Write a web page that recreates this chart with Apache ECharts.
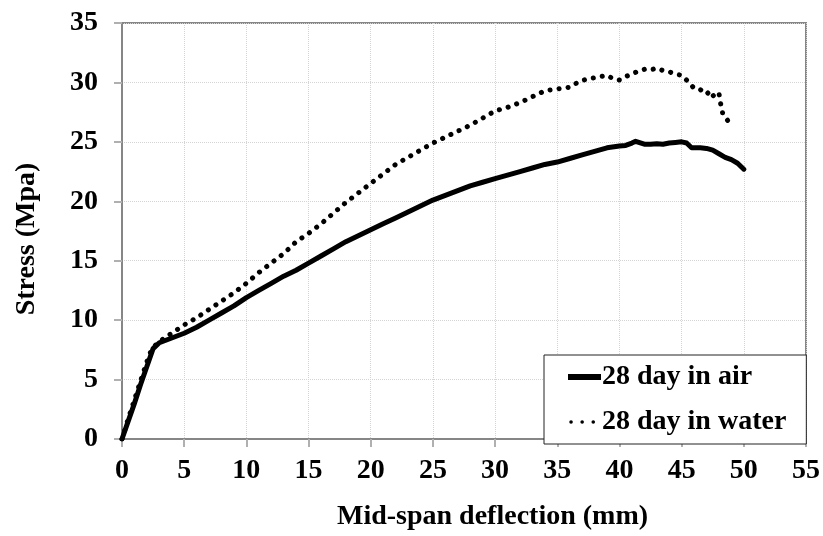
<!DOCTYPE html>
<html><head><meta charset="utf-8">
<script src="https://cdn.jsdelivr.net/npm/echarts@6/dist/echarts.min.js"></script>
<style>html,body{margin:0;padding:0;background:#fff}#c{width:823px;height:536px}</style>
</head><body><div id="c"></div>
<script>
const seriesNames = ['28 day in air', '28 day in water'];
const xTicks = [0,5,10,15,20,25,30,35,40,45,50,55];
const yTicks = [0,5,10,15,20,25,30,35];
const airData = [[0,0],[0.5,1.5],[1,3.0],[1.5,4.6],[2,6.1],[2.5,7.6],[3,8.1],[4,8.5],[5,8.9],[6,9.4],[7,10.0],[8,10.6],[9,11.2],[10,11.9],[11,12.5],[12,13.1],[13,13.7],[14,14.2],[15,14.8],[16,15.4],[17,16.0],[18,16.6],[19,17.1],[20,17.6],[21,18.1],[22,18.6],[23,19.1],[24,19.6],[25,20.1],[26,20.5],[27,20.9],[28,21.3],[29,21.6],[30,21.9],[31,22.2],[32,22.5],[33,22.8],[34,23.1],[35,23.3],[36,23.6],[37,23.9],[38,24.2],[39,24.5],[40,24.65],[40.5,24.7],[41,24.9],[41.3,25.05],[42,24.8],[42.5,24.8],[43,24.85],[43.5,24.8],[44,24.9],[44.5,24.95],[45,25.0],[45.4,24.9],[45.8,24.5],[46.5,24.5],[47,24.45],[47.5,24.3],[48,24.0],[48.5,23.7],[49,23.5],[49.5,23.2],[50,22.7]];
const waterData = [[0,0],[0.5,1.7],[1,3.3],[1.5,4.9],[2,6.5],[2.4,7.6],[3,8.2],[4,8.9],[5,9.6],[6,10.2],[7,10.9],[8,11.6],[9,12.3],[10,13.1],[11,14.0],[12,14.8],[13,15.6],[14,16.6],[15,17.3],[16,18.1],[17,19.0],[18,19.9],[19,20.7],[20,21.5],[21,22.3],[22,23.1],[23,23.7],[24,24.3],[25,24.9],[26,25.4],[27,25.9],[28,26.4],[29,27.0],[30,27.6],[31,27.9],[32,28.3],[33,28.8],[34,29.3],[35,29.45],[36,29.6],[36.8,30.1],[37.5,30.3],[38.5,30.5],[39,30.6],[39.5,30.3],[40,30.2],[40.5,30.5],[41,30.7],[41.5,30.95],[42,31.1],[42.5,31.05],[43,31.2],[43.5,31.0],[44,30.9],[44.5,30.7],[45,30.6],[45.5,30.1],[46,29.5],[46.5,29.4],[47,29.0],[47.3,29.3],[47.6,28.8],[48,29.1],[48.1,28.4],[48.3,27.4],[48.7,26.8]];

const FONT = 'Liberation Serif';
const txt = {fontFamily: FONT, fontWeight: 'bold', fontSize: 28, color: '#000'};
const chart = echarts.init(document.getElementById('c'), null, {renderer: 'canvas'});
chart.setOption({
  animation: false,
  backgroundColor: '#fff',
  grid: {left: 122, right: 16, top: 23, bottom: 93.5, show: true, borderColor: '#868686', borderWidth: 2, containLabel: false},
  xAxis: {
    type: 'value', min: xTicks[0], max: xTicks[xTicks.length-1], interval: 5,
    name: 'Mid-span deflection (mm)', nameLocation: 'middle', nameGap: 64,
    nameTextStyle: Object.assign({}, txt, {padding: [0, 0, 0, 57]}),
    axisLine: {lineStyle: {color: '#868686', width: 2}},
    axisTick: {show: true, inside: false, length: 8, lineStyle: {color: '#b0b0b0', width: 2}},
    axisLabel: Object.assign({}, txt, {margin: 18}),
    splitLine: {show: true, lineStyle: {color: '#d4d4d4', type: 'dotted', width: 1}}
  },
  yAxis: {
    type: 'value', min: yTicks[0], max: yTicks[yTicks.length-1], interval: 5,
    name: 'Stress (Mpa)', nameLocation: 'middle', nameGap: 81, nameRotate: 90,
    nameTextStyle: Object.assign({}, txt, {padding: [0, 16, 0, 0]}),
    axisLine: {lineStyle: {color: '#868686', width: 2}},
    axisTick: {show: true, inside: false, length: 8, lineStyle: {color: '#b0b0b0', width: 2}},
    axisLabel: Object.assign({}, txt, {margin: 24}),
    splitLine: {show: true, lineStyle: {color: '#d4d4d4', type: 'dotted', width: 1}}
  },
  legend: {
    orient: 'vertical', left: 544, top: 355,
    padding: [8, 20, 8, 21], itemGap: 17, itemWidth: 33, itemHeight: 14,
    backgroundColor: '#fff', borderColor: '#222', borderWidth: 1, z: 10,
    textStyle: Object.assign({}, txt, {padding: [0, 0, 0, -4]}),
    data: [
      {name: seriesNames[0], itemStyle: {opacity: 0}, lineStyle: {width: 6, type: 'solid', cap: 'butt', opacity: 1}},
      {name: seriesNames[1], itemStyle: {opacity: 0}, lineStyle: {width: 3.5, type: [0.1, 11], cap: 'round', dashOffset: -3, opacity: 1}}
    ]
  },
  series: [
    {name: seriesNames[0], type: 'line', data: airData, showSymbol: false, symbol: 'none',
     lineStyle: {color: '#000', width: 5, cap: 'round', join: 'round'}, itemStyle: {color: '#000'}, z: 3},
    {name: seriesNames[1], type: 'line', data: waterData, showSymbol: false, symbol: 'none',
     lineStyle: {color: '#000', width: 5, type: [0.1, 9], cap: 'round', join: 'round'}, itemStyle: {color: '#000'}, z: 4}
  ]
});
</script></body></html>
